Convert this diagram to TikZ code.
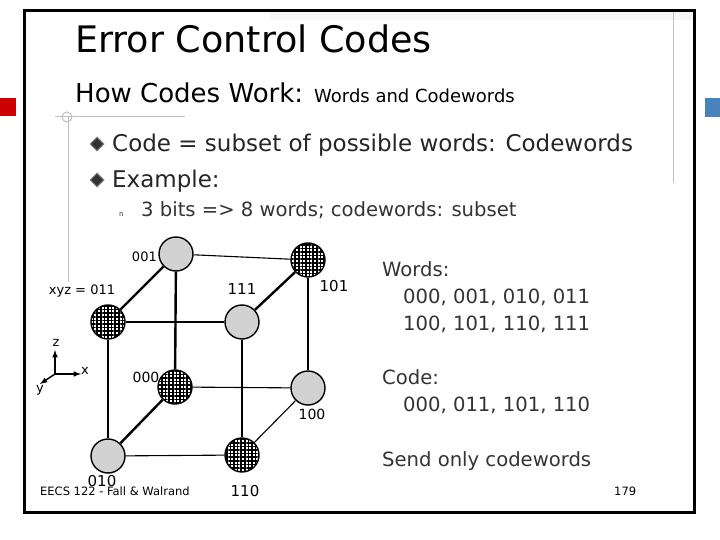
\documentclass[tikz,border=0pt]{standalone}
\usepackage{fontspec}
\setmainfont{DejaVu Sans}
\usetikzlibrary{patterns.meta,shapes.geometric}
\begin{document}
\begin{tikzpicture}[x=1pt,y=-1pt,
  plain/.style={circle,draw,line width=1.4pt,fill=gray!35,minimum size=34pt,inner sep=0pt},
  hatch/.style={circle,draw,line width=1.4pt,fill=white,minimum size=34pt,inner sep=0pt,
    postaction={pattern={Hatch[angle=0,distance=3.6pt,line width=1.6pt]}}},
  thick edge/.style={line width=2.4pt},
  thin edge/.style={line width=1.1pt},
  lbl/.style={font=\fontsize{13}{13}\selectfont,inner sep=0pt},
  rt/.style={anchor=base west,inner sep=0pt,font=\fontsize{19.6}{19.6}\selectfont,text=black!80}]
\useasboundingbox (0,0) rectangle (720,540);
\fill[white] (0,0) rectangle (720,540);
\fill[red!80!black] (0,98) rectangle (16,116);
\fill[cyan!60!blue!70!gray] (705,98) rectangle (720,117);
\fill[gray!8] (270,12) rectangle (694,20);
\draw[gray!50,line width=1pt] (673,12) -- (673,183);
\draw[gray!50,line width=1pt] (55,117) -- (185,117);
\draw[gray!50,line width=1pt] (68,117) -- (68,282);
\draw[gray!50,line width=1pt] (67,117) circle (5);
\draw[line width=3pt] (24,11) rectangle (694,512);
\node[anchor=base west,inner sep=0pt,font=\fontsize{36.5}{36.5}\selectfont] (title) at (75,53) {Error Control Codes};
\node[anchor=base west,inner sep=0pt,font=\fontsize{26}{26}\selectfont] (sub) at (75,103) {How Codes Work: {\fontsize{18}{18}\selectfont Words and Codewords}};
\node[rt,text=black!85,font=\fontsize{23}{23}\selectfont] (b1) at (112,152) {Code = subset of possible words: Codewords};
\node[rt,text=black!85,font=\fontsize{23}{23}\selectfont] (b2) at (112,188) {Example:};
\node[diamond,draw=gray,fill=black!80,line width=1pt,inner sep=0pt,minimum size=14pt,anchor=center] (d1) at (97,144) {};
\node[diamond,draw=gray,fill=black!80,line width=1pt,inner sep=0pt,minimum size=14pt,anchor=center] (d2) at (97,180) {};
\node[rt,font=\fontsize{7}{7}\selectfont] (nb) at (119,216) {n};
\node[rt] (b3) at (141,217) {3 bits => 8 words; codewords: subset};
% cube
\node[plain] (n001) at (176,254) {};
\node[hatch] (n101) at (308,260) {};
\node[hatch] (n011) at (108,322) {};
\node[plain] (n111) at (242,322) {};
\node[hatch] (n000) at (175,387) {};
\node[plain] (n100) at (308,388) {};
\node[plain] (n010) at (108,456) {};
\node[hatch] (n110) at (242,455) {};
\draw[thin edge] (n001) -- (n101);
\draw[thick edge] (n001) -- (n011);
\draw[thick edge] (n001) -- (n000);
\draw[thick edge] (n101) -- (n111);
\draw[thin edge] (n101) -- (n100);
\draw[thin edge] (n011) -- (n111);
\draw[thick edge] (n011) -- (n010);
\draw[thick edge] (n111) -- (n110);
\draw[thin edge] (n000) -- (n100);
\draw[thick edge] (n000) -- (n010);
\draw[thin edge] (n100) -- (n110);
\draw[thin edge] (n010) -- (n110);
\node[lbl,anchor=east] (l001) at (157,257) {001};
\node[lbl] (l011) at (82,291) {xyz = 011};
\node[lbl,font=\fontsize{15}{15}\selectfont] (l111) at (242,289) {111};
\node[lbl,font=\fontsize{15}{15}\selectfont] (l101) at (334,286) {101};
\node[lbl,font=\fontsize{14}{14}\selectfont] (l000) at (146,377) {000};
\node[lbl,font=\fontsize{14}{14}\selectfont] (l100) at (312,414) {100};
\node[lbl,font=\fontsize{15}{15}\selectfont] (l010) at (102,481) {010};
\node[lbl,font=\fontsize{15}{15}\selectfont] (l110) at (245,491) {110};
% axes
\coordinate (o) at (55,374);
\coordinate (az) at (55,350);
\coordinate (ax) at (81,374);
\coordinate (ay) at (40,384);
\draw[line width=1.5pt,-latex] (o) -- (az);
\draw[line width=1.5pt,-latex] (o) -- (ax);
\draw[line width=1.5pt,-latex] (o) -- (ay);
\node[lbl] (tz) at (56,343) {z};
\node[lbl,anchor=west] (tx) at (81,371) {x};
\node[lbl] (ty) at (40,390) {y};
% right text
\node[rt] (w0) at (382,276) {Words:};
\node[rt] (w1) at (403,303) {000, 001, 010, 011};
\node[rt] (w2) at (403,330) {100, 101, 110, 111};
\node[rt] (c0) at (382,384) {Code:};
\node[rt] (c1) at (403,411) {000, 011, 101, 110};
\node[rt] (s0) at (382,466) {Send only codewords};
\node[anchor=base west,inner sep=0pt,font=\fontsize{11.5}{11.5}\selectfont] (ft) at (40,495) {EECS 122 - Fall \& Walrand};
\node[anchor=base west,inner sep=0pt,font=\fontsize{11.5}{11.5}\selectfont] (pg) at (614,495) {179};
\end{tikzpicture}
\end{document}
